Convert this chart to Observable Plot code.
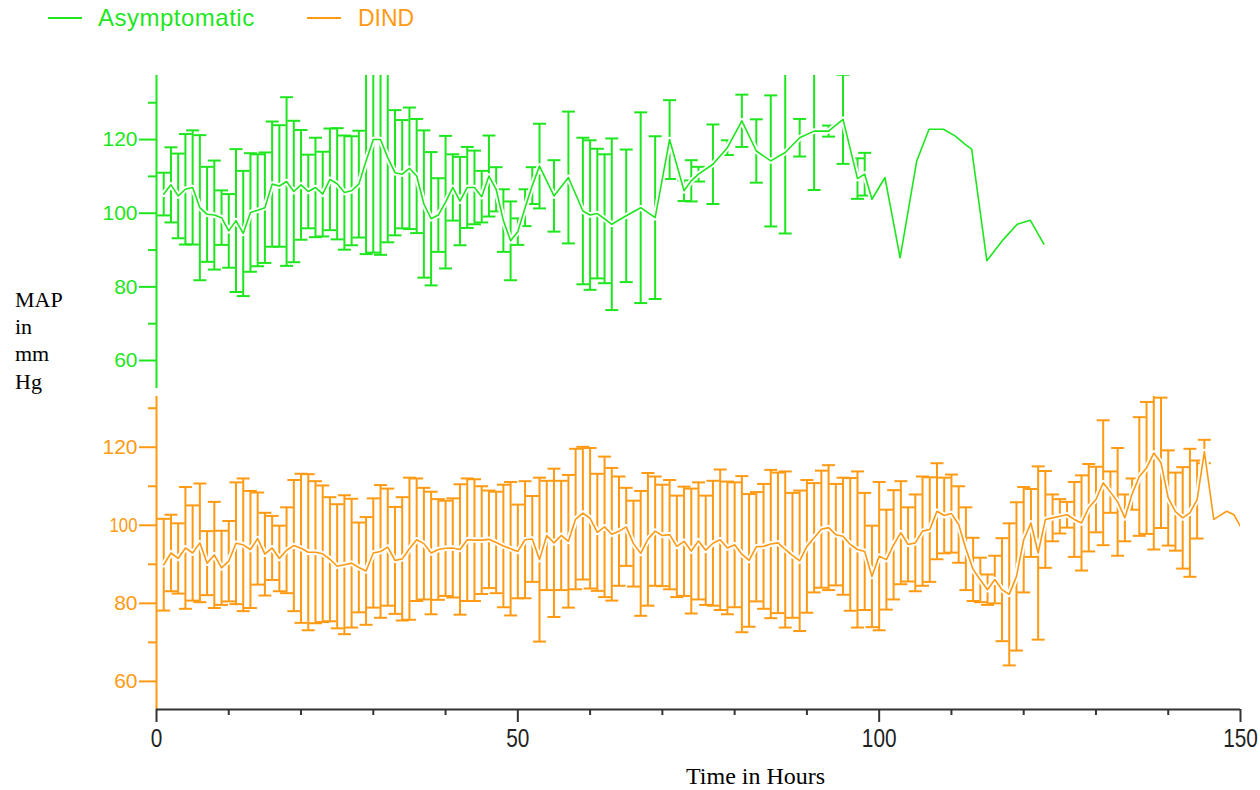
<!DOCTYPE html>
<html><head><meta charset="utf-8">
<script src="https://cdn.jsdelivr.net/npm/d3@7"></script>
<script src="https://cdn.jsdelivr.net/npm/@observablehq/plot@0.6"></script>
<style>
body{margin:0;background:#fff;}
#wrap{position:relative;width:1260px;height:790px;overflow:hidden;background:#fff;}
#wrap svg{position:absolute;left:0;top:0;overflow:visible;}
.lab{position:absolute;white-space:nowrap;}
.key{position:absolute;height:2px;}
</style></head><body><div id="wrap"></div>
<script>
const GREEN = "#1ee61e";
const ORANGE = "#ff9a12";
const seriesNames = ["Asymptomatic", "DIND"];

// Asymptomatic: time (h), mean MAP, SD (null = mean line only, no error bar)
const asymHours = [1,2,3,4,5,6,7,8,9,10,11,12,13,14,15,16,17,18,19,20,21,22,23,24,25,26,27,28,29,30,31,32,33,34,35,36,37,38,39,40,41,42,43,44,45,46,47,48,49,50,51,52,53,
  55,57,59,60,61,62,63,65,67,69,71,73,74,75,77,79,81,83,85,87,89,91,93,95,97,98,
  99,100.8,102.9,105.2,106.9,108.9,110.5,111.9,112.8,114.9,117.2,119.1,120.9,122.8];
const asymMean = [105.2,107.7,104.7,106.5,107.0,101.5,99.7,99.5,98.8,95.2,98.0,94.5,100.2,100.8,101.5,107.9,107.4,108.6,105.9,107.7,105.9,107.0,105.2,109.2,108.0,105.6,106.1,107.9,114.2,120.0,120.0,115.1,111.0,110.6,112.2,110.1,102.5,98.5,99.5,103.0,107.0,103.3,107.0,107.0,104.5,110.1,106.5,98.0,92.5,95.0,101.5,107.5,112.8,
  104.7,109.7,100.6,99.5,99.9,98.5,97.0,99.3,101.5,98.8,120.0,106.1,108.8,110.6,113.3,117.8,125.1,116.9,114.2,116.5,120.5,122.3,122.3,125.5,109.4,110.6,
  103.8,109.7,87.9,114.2,122.8,122.8,121.0,118.7,117.4,87.1,92.9,97.0,98.1,91.6];
const asymSD = [5.8,10.2,11.5,15,15.5,19.7,12.9,14.8,7.4,10,19.4,17,16.1,15.2,15,17,16.5,22.9,19.2,14.9,10,13.5,11.5,13.8,15.1,15.5,14.8,14.5,25.3,30.7,31.3,23,17,14.7,16.5,15.5,20,18.1,10,18,9,12,11,10,7,11,6,8.5,10.7,3.6,5,5,11.5,
  9.7,17.9,19.9,20.3,17.6,17.5,23.3,18,25.9,22.1,10.7,2.8,5.6,2,10.8,2,7.1,8.6,17.8,22,5.1,16,1.5,12.1,5.5,5.8,
  null,null,null,null,null,null,null,null,null,null,null,null,null,null];

// DIND
const dindHours = [1,2,3,4,5,6,7,8,9,10,11,12,13,14,15,16,17,18,19,20,21,22,23,24,25,26,27,28,29,30,31,32,33,34,35,36,37,38,39,40,41,42,43,44,45,46,47,48,49,50,
  51,52,53,54,55,56,57,58,59,60,61,62,63,64,65,66,67,68,69,70,71,72,73,74,75,76,77,78,79,80,81,82,83,84,85,86,87,88,89,90,91,92,93,94,95,96,97,98,99,100,
  101,102,103,104,105,106,107,108,109,110,111,112,113,114,115,116,117,118,119,120,121,122,123,124,125,126,127,128,129,130,131,132,133,134,135,136,137,138,139,140,141,142,143,144,145,
  146.3,148.1,149.1,150];
const dindMean = [89.9,92.9,91.5,94.2,92.9,95.5,90.3,92.4,89.1,90.8,95.4,95.0,93.8,96.6,92.6,94.2,91.5,93.6,94.8,94.1,93.1,93.1,92.7,91.3,89.5,89.9,90.3,89.2,88.3,92.9,93.3,94.4,91.0,91.4,94.0,96.3,95.3,92.9,93.8,94.1,94.2,93.8,96.3,96.2,96.2,96.4,95.6,94.7,94.0,93.3,
  96.3,96.5,91.2,97.4,95.5,97.4,95.9,101.6,103.1,101.8,98.2,99.6,97.7,98.5,99.6,95.3,92.8,96.4,98.5,97.4,97.6,94.6,95.9,93.4,96.0,93.6,95.4,96.3,94.2,95.0,92.6,91.0,94.5,94.6,95.2,95.5,93.8,92.3,90.9,94.6,96.8,99.0,99.4,97.6,97.2,95.1,93.8,93.3,86.9,92.1,
  91.2,95.0,98.1,95.1,95.5,98.5,98.9,103.6,102.5,103.0,100.2,94.0,88.7,86.0,83.5,86.1,83.5,82.3,86.9,96.3,100.6,92.9,101.5,101.9,102.3,102.7,101.5,100.6,104.5,106.6,110.9,108.5,106.0,101.9,108.0,112.5,114.7,118.5,116.0,107.0,103.5,101.9,103.2,106.6,118.9,
  101.5,103.6,102.7,99.7];
const dindSD = [11.75,9.8,9,15.6,12.2,15.2,8.2,13.6,9.5,10.3,15.6,17,15,11.8,10.6,8.2,8.4,11,16.8,19.1,20,18.2,17.5,15.9,15.9,17.8,16.5,11.5,13.8,14,17,15,13.7,15.8,18.2,15.7,14.3,15.7,12.9,12.2,12.7,16.7,15.7,15.6,13.8,12.5,13,15.7,17.1,12,
  15,11,21,14,19,14,17,18,17,18,15,18,17,14,10,11,16,17,14,13,14,13,14,16,15,14,16,18,17,16,20,17,14,16,19,18,20,16,18,17,14,15,16,13,15,17,20,15,13,19,
  12.8,14,13.2,9.5,12.4,14,13.4,12.3,9.7,10,9.8,10.6,8.1,5.7,3.9,6.1,13.2,18.2,19,13.5,8.7,22.2,12.4,6,4.4,3.3,9.6,12.2,11.2,8.4,16,5.3,13.8,6,4,15.2,16.9,24.7,16.7,12.2,10,13,16.4,10,3,
  null,null,null,null];

const xMajorTicks = [0, 50, 100, 150];
const xMinorTicks = [10,20,30,40,60,70,80,90,110,120,130,140];
const yMajorTicks = [60, 80, 100, 120];
const yMinorTicks = [70, 90, 110, 130];

function rows(hours, mean, sd) {
  return hours.map((h, i) => ({h, m: mean[i], sd: sd[i],
    lo: sd[i] == null ? null : mean[i] - sd[i],
    hi: sd[i] == null ? null : mean[i] + sd[i]}));
}
const asymRows = rows(asymHours, asymMean, asymSD);
const dindRows = rows(dindHours, dindMean, dindSD);

const capSymbol = {draw(ctx) { ctx.moveTo(-6.5, 0); ctx.lineTo(6.5, 0); }};

function panel(data, col, yDomain, mTop, mBottom, withX) {
  const bars = data.filter(d => d.sd != null);
  const marks = [
    Plot.ruleX(bars, {x: "h", y1: "lo", y2: "hi", stroke: col, strokeWidth: 2, clip: true}),
    Plot.dot(bars, {x: "h", y: "lo", symbol: capSymbol, r: 4, stroke: col, fill: "none", strokeWidth: 2, clip: true}),
    Plot.dot(bars, {x: "h", y: "hi", symbol: capSymbol, r: 4, stroke: col, fill: "none", strokeWidth: 2, clip: true}),
    Plot.line(data, {x: "h", y: "m", stroke: "white", strokeWidth: 5.5, clip: true}),
    Plot.line(data, {x: "h", y: "m", stroke: col, strokeWidth: 1.6, clip: true}),
    Plot.ruleX([0], {stroke: col, strokeWidth: 2}),
    Plot.axisY(yMajorTicks, {tickSize: 17, tickPadding: 2, stroke: col, strokeWidth: 2, fill: col, fontSize: 21, label: null}),
    Plot.axisY(yMinorTicks, {tickSize: 8, stroke: col, strokeWidth: 2, tickFormat: () => "", label: null})
  ];
  if (withX) {
    marks.push(
      Plot.ruleY([yDomain[0]], {stroke: "#333", strokeWidth: 2}),
      Plot.axisX(xMajorTicks, {tickSize: 13, tickPadding: 6, stroke: "#333", strokeWidth: 2, fill: "#222", fontSize: 26,
        fontFamily: "'Liberation Sans', Arial, sans-serif", label: null, ariaLabel: "x-major"}),
      Plot.axisX(xMinorTicks, {tickSize: 6, stroke: "#333", strokeWidth: 2, tickFormat: () => "", label: null})
    );
  }
  const svg = Plot.plot({
    width: 1260, height: 790,
    marginLeft: 156, marginRight: 20, marginTop: mTop, marginBottom: mBottom,
    style: {fontFamily: "'Liberation Sans', Arial, sans-serif", fontSize: "21px", background: "transparent"},
    x: {domain: [0, 150], ...(withX ? {} : {axis: null})},
    y: {domain: yDomain},
    marks
  });
  if (withX) {
    // condensed look of the original's x tick labels
    d3.select(svg).selectAll("text").each(function() {
      const txt = this.textContent;
      if (xMajorTicks.map(String).includes(txt) && this.closest("g") && /x/i.test(this.closest("g").getAttribute("aria-label") || "")) {
        const t = this.getAttribute("transform") || "";
        this.setAttribute("transform", t + " scale(0.8,1)");
      }
    });
  }
  return svg;
}

const wrap = document.getElementById("wrap");
wrap.appendChild(panel(asymRows, GREEN, [52.4, 137.4], 75, 402, false));
wrap.appendChild(panel(dindRows, ORANGE, [52.8, 133.0], 396, 81, true));

function addDiv(cls, css, text) {
  const d = document.createElement("div");
  d.className = cls;
  d.style.cssText = css;
  if (text != null) d.textContent = text;
  wrap.appendChild(d);
  return d;
}
// legend
addDiv("key", `left:48px;top:17px;width:34px;background:${GREEN};`);
addDiv("lab", `left:98px;top:6px;font:24px 'Liberation Sans',Arial,sans-serif;line-height:24px;letter-spacing:0.5px;color:${GREEN};`, seriesNames[0]);
addDiv("key", `left:307px;top:17px;width:34px;background:${ORANGE};`);
addDiv("lab", `left:358px;top:6px;font:23px 'Liberation Sans',Arial,sans-serif;line-height:24px;color:${ORANGE};`, seriesNames[1]);
// y title
addDiv("lab", `left:15px;top:286px;font:22px 'Liberation Serif','Times New Roman',serif;line-height:27.2px;color:#000;white-space:pre;`, "MAP\nin\nmm\nHg");
// x title
addDiv("lab", `left:686px;top:764px;font:24px 'Liberation Serif','Times New Roman',serif;line-height:24px;color:#000;`, "Time in Hours");
</script></body></html>
